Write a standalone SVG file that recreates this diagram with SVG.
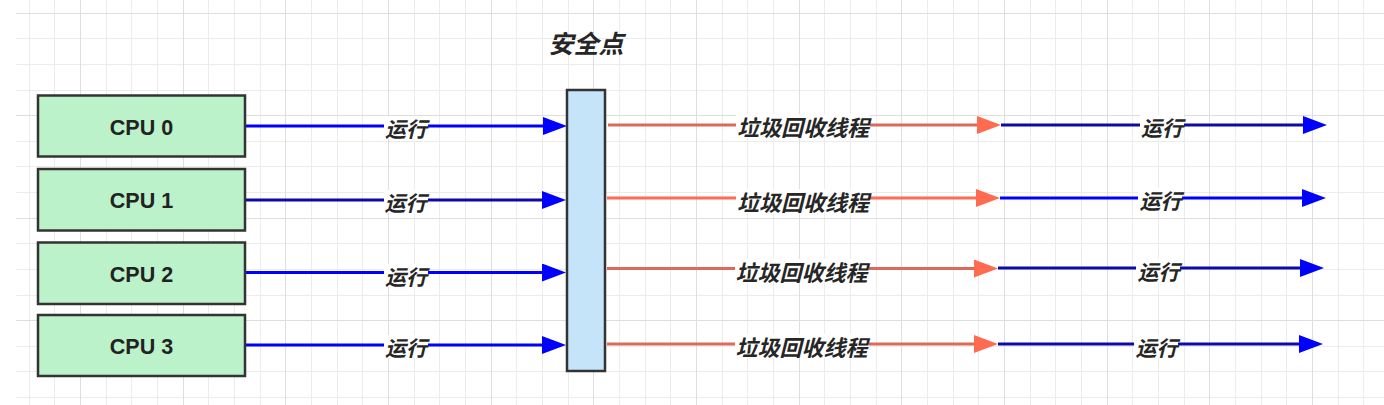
<svg xmlns="http://www.w3.org/2000/svg" width="1384" height="405" viewBox="0 0 1384 405">
<style>
.minor{stroke:#ececec;stroke-width:1;fill:none}
.major{stroke:#dedede;stroke-width:1;fill:none}
.cpu rect{fill:#bbf2c9;stroke:#333333;stroke-width:2.5}
.cpu text{font-family:"Liberation Sans",Arial,sans-serif;font-weight:bold;font-size:21.5px;fill:#222222;text-anchor:middle;dominant-baseline:central}
.lbl{font-family:"Noto Sans CJK SC","Noto Sans CJK JP",sans-serif;font-weight:bold;font-style:italic;fill:#262626;text-anchor:middle;dominant-baseline:central}
.run{font-size:21px}
.gc{font-size:22px}
.bg{fill:#ffffff}
.e{fill:none;stroke-width:3}
.blue{stroke:#0000ff;marker-end:url(#hb)}
.navy{stroke:#0b0ba6;marker-end:url(#hb)}
.red{stroke:#db6a5b;marker-end:url(#hr)}
.redb{stroke:#ff6b54;marker-end:url(#hr)}
</style>
<defs>
<marker id="hb" markerUnits="userSpaceOnUse" markerWidth="26" markerHeight="20" refX="12" refY="9" orient="auto"><path d="M0,0 L24,9 L0,18 Z" fill="#0000ff"/></marker>
<marker id="hr" markerUnits="userSpaceOnUse" markerWidth="26" markerHeight="20" refX="12" refY="9" orient="auto"><path d="M0,0 L24,9 L0,18 Z" fill="#ff6b50"/></marker>
</defs>
<rect width="1384" height="405" fill="#ffffff"/>
<g id="grid">
<path class="minor" d="M29.5,0V405M54.5,0V405M106.5,0V405M131.5,0V405M157.5,0V405M208.5,0V405M234.5,0V405M260.5,0V405M311.5,0V405M337.5,0V405M362.5,0V405M414.5,0V405M439.5,0V405M465.5,0V405M516.5,0V405M542.5,0V405M568.5,0V405M619.5,0V405M645.5,0V405M670.5,0V405M722.5,0V405M747.5,0V405M773.5,0V405M824.5,0V405M850.5,0V405M876.5,0V405M927.5,0V405M953.5,0V405M978.5,0V405M1030.5,0V405M1055.5,0V405M1081.5,0V405M1132.5,0V405M1158.5,0V405M1184.5,0V405M1235.5,0V405M1261.5,0V405M1286.5,0V405M1338.5,0V405M1363.5,0V405M16,38.5H1384M16,64.5H1384M16,90.5H1384M16,141.5H1384M16,166.5H1384M16,192.5H1384M16,243.5H1384M16,269.5H1384M16,295.5H1384M16,346.5H1384M16,371.5H1384M16,397.5H1384"/>
<path class="major" d="M80.5,0V405M183.5,0V405M285.5,0V405M388.5,0V405M491.5,0V405M593.5,0V405M696.5,0V405M799.5,0V405M901.5,0V405M1004.5,0V405M1107.5,0V405M1209.5,0V405M1312.5,0V405M16,13.5H1384M16,115.5H1384M16,218.5H1384M16,320.5H1384"/>
</g>
<g id="connectors">
<path class="e blue" d="M245,126H555"/>
<path class="e red" d="M608,125H989"/>
<path class="e navy" d="M1001,125H1315"/>
<path class="e navy" d="M245,200H554"/>
<path class="e redb" d="M607,198H988"/>
<path class="e blue" d="M1000,198H1314"/>
<path class="e blue" d="M245,272.5H554"/>
<path class="e red" d="M607,268.5H986"/>
<path class="e navy" d="M998,268H1312"/>
<path class="e blue" d="M245,345H554"/>
<path class="e red" d="M607,344H986"/>
<path class="e navy" d="M998,344H1311"/>
<g id="labels">
<rect class="bg" x="384" y="116" width="44" height="23"/><text class="lbl run" x="406" y="127.5">运行</text>
<rect class="bg" x="736" y="114" width="134" height="24"/><text class="lbl gc" x="803" y="126">垃圾回收线程</text>
<rect class="bg" x="1140" y="115" width="44" height="23"/><text class="lbl run" x="1162" y="127">运行</text>
<rect class="bg" x="384" y="190" width="44" height="23"/><text class="lbl run" x="405.5" y="201.5">运行</text>
<rect class="bg" x="736" y="189" width="134" height="24"/><text class="lbl gc" x="803" y="200.5">垃圾回收线程</text>
<rect class="bg" x="1138" y="188" width="44" height="23"/><text class="lbl run" x="1160.5" y="200">运行</text>
<rect class="bg" x="384" y="264" width="44" height="23"/><text class="lbl run" x="406" y="275.5">运行</text>
<rect class="bg" x="735" y="259" width="134" height="24"/><text class="lbl gc" x="801.5" y="271">垃圾回收线程</text>
<rect class="bg" x="1136" y="259" width="44" height="23"/><text class="lbl run" x="1158.5" y="271">运行</text>
<rect class="bg" x="384" y="335" width="44" height="23"/><text class="lbl run" x="406" y="347">运行</text>
<rect class="bg" x="735" y="334" width="134" height="24"/><text class="lbl gc" x="801.5" y="346">垃圾回收线程</text>
<rect class="bg" x="1134" y="335" width="44" height="23"/><text class="lbl run" x="1156.5" y="346.5">运行</text>
</g>
</g>
<g id="cpu0" class="cpu"><rect x="38" y="95.5" width="207" height="61"/><text x="141.5" y="127.5">CPU 0</text></g>
<g id="cpu1" class="cpu"><rect x="38" y="169" width="207" height="61.5"/><text x="141.5" y="201">CPU 1</text></g>
<g id="cpu2" class="cpu"><rect x="38" y="242.5" width="207" height="61.5"/><text x="141.5" y="274.5">CPU 2</text></g>
<g id="cpu3" class="cpu"><rect x="38" y="315" width="207" height="61"/><text x="141.5" y="347">CPU 3</text></g>
<g id="safepoint"><rect x="567" y="90" width="38" height="281" fill="#c5e4fa" stroke="#333333" stroke-width="2.5"/></g>
<g id="title"><text class="lbl" x="586" y="41.5" font-size="25">安全点</text></g>
</svg>
